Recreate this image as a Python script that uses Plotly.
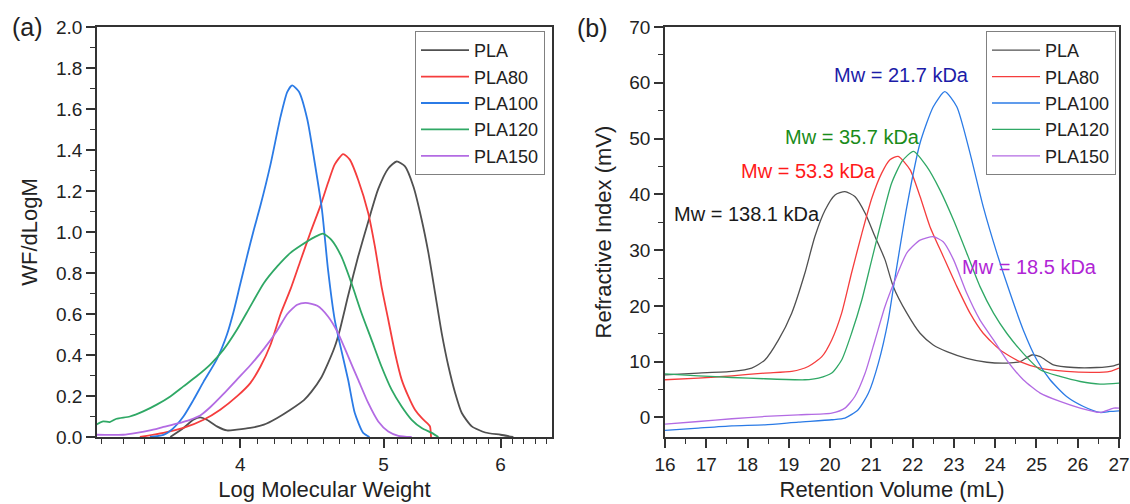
import math
import plotly.graph_objects as go

# ---------------- data: panel (a) GPC distributions ----------------
pla_x = [3.587, 3.661, 3.718, 3.758, 3.797, 3.857, 3.918, 3.979, 4.063, 4.150, 4.237, 4.325, 4.417,
         4.468, 4.538, 4.586, 4.634, 4.670, 4.732, 4.806, 4.882, 4.959, 5.037, 5.103, 5.170, 5.238,
         5.306, 5.362, 5.418, 5.474, 5.532, 5.590, 5.648, 5.737, 5.858, 6.00, 6.12]
pla_y = [0.0, 0.044, 0.084, 0.096, 0.084, 0.052, 0.032, 0.036, 0.044, 0.060, 0.093, 0.133, 0.180,
         0.22, 0.29, 0.36, 0.44, 0.52, 0.69, 0.88, 1.05, 1.21, 1.31, 1.344, 1.32, 1.222,
         1.06, 0.898, 0.702, 0.507, 0.344, 0.215, 0.117, 0.052, 0.022, 0.011, 0.0]

pla80_x = [3.421, 3.549, 3.661, 3.778, 3.877, 3.979, 4.063, 4.128, 4.193, 4.259, 4.325, 4.393, 4.463,
           4.533, 4.586, 4.634, 4.695, 4.744, 4.806, 4.882, 4.933, 4.984, 5.037, 5.090, 5.143, 5.197,
           5.251, 5.306, 5.356, 5.375, 5.384]
pla80_y = [0.0, 0.02, 0.044, 0.084, 0.133, 0.198, 0.263, 0.344, 0.45, 0.60, 0.72, 0.86, 1.0,
           1.13, 1.24, 1.33, 1.38, 1.353, 1.255, 1.093, 0.93, 0.735, 0.572, 0.41, 0.28, 0.198,
           0.133, 0.093, 0.065, 0.052, 0.0]

pla100_x = [3.475, 3.549, 3.60, 3.661, 3.718, 3.778, 3.857, 3.918, 3.958, 3.998, 4.042, 4.085, 4.128,
            4.193, 4.259, 4.304, 4.337, 4.383, 4.440, 4.489, 4.543, 4.586, 4.634, 4.670, 4.732,
            4.781, 4.844, 4.892]
pla100_y = [0.0, 0.01, 0.04, 0.10, 0.18, 0.27, 0.38, 0.50, 0.61, 0.74, 0.88, 1.01, 1.13,
            1.33, 1.563, 1.684, 1.715, 1.684, 1.55, 1.35, 1.107, 0.815, 0.571, 0.458, 0.278,
            0.117, 0.02, 0.0]

pla120_x = [3.196, 3.231, 3.264, 3.299, 3.368, 3.439, 3.512, 3.587, 3.661, 3.737, 3.817, 3.897, 3.979,
            4.063, 4.150, 4.237, 4.325, 4.398, 4.491, 4.550, 4.610, 4.682, 4.756, 4.831, 4.907,
            4.984, 5.063, 5.143, 5.224, 5.306, 5.390, 5.446]
pla120_y = [0.06, 0.076, 0.073, 0.089, 0.10, 0.125, 0.158, 0.198, 0.247, 0.296, 0.353, 0.426, 0.523,
            0.637, 0.751, 0.832, 0.898, 0.935, 0.975, 0.992, 0.962, 0.881, 0.751, 0.605, 0.475,
            0.344, 0.231, 0.149, 0.084, 0.044, 0.02, 0.0]

pla150_x = [3.196, 3.264, 3.333, 3.404, 3.475, 3.549, 3.623, 3.699, 3.758, 3.817, 3.897, 3.979, 4.063,
            4.150, 4.237, 4.304, 4.371, 4.429, 4.510, 4.586, 4.658, 4.732, 4.806, 4.882, 4.959,
            5.037, 5.117, 5.224]
pla150_y = [0.011, 0.01, 0.011, 0.02, 0.032, 0.049, 0.065, 0.084, 0.105, 0.145, 0.21, 0.28, 0.35,
            0.43, 0.52, 0.60, 0.645, 0.654, 0.64, 0.588, 0.507, 0.393, 0.28, 0.166, 0.076,
            0.027, 0.006, 0.0]

# ---------------- data: panel (b) refractive index traces ----------------
ri_pla_x = [16, 16.81, 17.62, 18.1, 18.42, 18.75, 19.07, 19.39, 19.63, 19.88, 20.12, 20.36, 20.60,
            20.85, 21.09, 21.33, 21.53, 21.86, 22.18, 22.50, 22.83, 23.31, 23.80, 24.28, 24.60,
            24.89, 25.09, 25.41, 25.90, 26.46, 26.87, 27.0]
ri_pla_y = [7.65, 7.96, 8.25, 8.85, 10.3, 13.9, 18.7, 25.9, 32.4, 37.2, 39.9, 40.5, 39.6,
            36.6, 32.4, 28.3, 23.5, 18.7, 15.1, 13.0, 11.8, 10.6, 9.9, 9.75, 10.0,
            11.2, 10.9, 9.44, 8.96, 8.96, 9.27, 9.57]

ri_pla80_x = [16, 16.81, 17.62, 18.42, 19.07, 19.47, 19.80, 20.04, 20.28, 20.52, 20.77, 21.01, 21.25,
              21.45, 21.65, 21.94, 22.18, 22.42, 22.74, 23.07, 23.39, 23.71, 24.12, 24.60, 25.09,
              25.73, 26.38, 26.78, 27.0]
ri_pla80_y = [6.76, 7.06, 7.47, 7.96, 8.25, 9.14, 10.9, 13.9, 18.7, 25.9, 33.0, 39.3, 43.8,
              46.2, 46.8, 44.4, 39.6, 34.2, 28.9, 23.5, 18.7, 15.1, 12.1, 10.0, 8.85,
              8.25, 8.07, 8.25, 8.85]

ri_pla100_x = [16, 16.81, 17.62, 18.42, 19.23, 20.04, 20.36, 20.68, 20.93, 21.17, 21.41, 21.55, 21.86,
               22.18, 22.50, 22.78, 23.07, 23.39, 23.71, 24.04, 24.36, 24.68, 25.01, 25.33, 25.73,
               26.14, 26.54, 26.78, 27.0]
ri_pla100_y = [-2.33, -1.9, -1.49, -1.31, -0.83, -0.41, -0.11, 1.38, 4.37, 9.75, 17.5, 24.0, 37.8,
               49.2, 55.7, 58.4, 55.7, 47.4, 37.8, 29.5, 22.3, 15.7, 10.3, 6.76, 3.76,
               1.97, 0.9, 1.08, 1.2]

ri_pla120_x = [16, 16.81, 17.62, 18.42, 19.39, 19.72, 20.04, 20.28, 20.52, 20.77, 21.01, 21.25, 21.49,
               21.75, 22.02, 22.34, 22.66, 22.99, 23.31, 23.63, 23.96, 24.28, 24.68, 25.09, 25.57,
               26.06, 26.54, 27.0]
ri_pla120_y = [7.83, 7.47, 7.17, 6.94, 6.76, 7.06, 7.96, 10.3, 15.1, 21.1, 28.3, 35.4, 42.0,
               46.0, 47.7, 45.0, 40.8, 35.4, 29.5, 23.5, 18.7, 15.1, 11.5, 8.55, 7.35,
               6.45, 5.99, 6.16]

ri_pla150_x = [16, 16.81, 17.62, 18.42, 19.23, 20.04, 20.36, 20.60, 20.85, 21.09, 21.33, 21.55, 21.86,
               22.18, 22.50, 22.74, 22.99, 23.31, 23.63, 23.96, 24.28, 24.68, 25.09, 25.57, 26.06,
               26.54, 26.87, 27.0]
ri_pla150_y = [-1.19, -0.72, -0.23, 0.18, 0.48, 0.79, 1.68, 3.76, 7.96, 13.9, 19.9, 24.2, 29.5,
               31.8, 32.4, 31.5, 28.3, 22.3, 17.5, 13.9, 10.3, 6.76, 4.37, 2.87, 1.68,
               0.9, 1.68, 1.68]

names = ["PLA", "PLA80", "PLA100", "PLA120", "PLA150"]
colors = ["#505050", "#f53d3d", "#2b7be6", "#2fa865", "#b36be3"]

mw_labels = ["Mw = 138.1 kDa", "Mw = 53.3 kDa", "Mw = 21.7 kDa", "Mw = 35.7 kDa", "Mw = 18.5 kDa"]
mw_label_x = [17.99, 19.48, 21.74, 20.54, 24.83]
mw_label_y = [36.5, 44.2, 61.4, 50.3, 27.0]
mw_colors = ["#1a1a1a", "#ff1a1a", "#1c1ca8", "#1a8c1a", "#b025d5"]

x_major_a = [4, 5, 6]
x_minor_a = [m + k / 9 for m in [3, 4, 5, 6] for k in range(1, 9)]

FONT = "Liberation Sans, Arial, sans-serif"

fig = go.Figure()

left_sets = [(pla_x, pla_y), (pla80_x, pla80_y), (pla100_x, pla100_y), (pla120_x, pla120_y), (pla150_x, pla150_y)]
right_sets = [(ri_pla_x, ri_pla_y), (ri_pla80_x, ri_pla80_y), (ri_pla100_x, ri_pla100_y),
              (ri_pla120_x, ri_pla120_y), (ri_pla150_x, ri_pla150_y)]

for (xs, ys), n, c in zip(left_sets, names, colors):
    fig.add_trace(go.Scatter(x=xs, y=ys, name=n, mode="lines",
                             line=dict(color=c, width=1.8, shape="spline", smoothing=0.6),
                             xaxis="x", yaxis="y", legend="legend"))
for (xs, ys), n, c in zip(right_sets, names, colors):
    fig.add_trace(go.Scatter(x=xs, y=ys, name=n, mode="lines",
                             line=dict(color=c, width=1.3, shape="spline", smoothing=0.6),
                             xaxis="x2", yaxis="y2", legend="legend2"))

axis_common = dict(showline=True, linecolor="#333333", linewidth=1.5, mirror=True,
                   ticks="outside", ticklen=9, tickwidth=1.5, tickcolor="#333333",
                   showgrid=False, zeroline=False, automargin=False,
                   tickfont=dict(family=FONT, size=19, color="#222222"),
                   title_font=dict(family=FONT, size=22, color="#222222"))
minor_common = dict(ticks="outside", ticklen=5, tickwidth=1.2, tickcolor="#333333", showgrid=False)

legend_common = dict(xanchor="right", yanchor="top", bgcolor="white", bordercolor="#808080",
                     borderwidth=1, itemwidth=48, tracegroupgap=0,
                     font=dict(family=FONT, size=18, color="#222222"))

fig.update_layout(
    width=1130, height=504,
    margin=dict(l=0, r=0, t=0, b=0, autoexpand=False),
    paper_bgcolor="white", plot_bgcolor="white",
    font=dict(family=FONT, size=18, color="#222222"),
    xaxis=dict(axis_common, domain=[97 / 1130, 552 / 1130], type="log",
               range=[math.log10(3.2), math.log10(6.5)],
               tickmode="array", tickvals=x_major_a, ticktext=[str(v) for v in x_major_a],
               minor=dict(minor_common, tickmode="array", tickvals=x_minor_a),
               title=dict(text="Log Molecular Weight", standoff=8), anchor="y"),
    yaxis=dict(axis_common, domain=[1 - 437 / 504, 1 - 27 / 504], range=[0, 2.0],
               tick0=0, dtick=0.2, tickformat=".1f",
               minor=dict(minor_common, tick0=0, dtick=0.1),
               title=dict(text="WF/dLogM", standoff=12), anchor="x"),
    xaxis2=dict(axis_common, domain=[665 / 1130, 1119 / 1130], range=[16, 27],
                tick0=16, dtick=1, minor=dict(minor_common, tick0=16, dtick=0.5),
                title=dict(text="Retention Volume (mL)", standoff=8), anchor="y2"),
    yaxis2=dict(axis_common, domain=[1 - 437 / 504, 1 - 27 / 504], range=[-3.5, 70],
                tick0=0, dtick=10, minor=dict(minor_common, tick0=0, dtick=5),
                title=dict(text="Refractive Index (mV)", standoff=12), anchor="x2"),
    legend=dict(legend_common, x=545 / 1130, y=1 - 31 / 504),
    legend2=dict(legend_common, x=1116 / 1130, y=1 - 31 / 504),
    showlegend=True,
)

for t, x, y, c in zip(mw_labels, mw_label_x, mw_label_y, mw_colors):
    fig.add_annotation(text=t, x=x, y=y, xref="x2", yref="y2", showarrow=False,
                       font=dict(family=FONT, size=20, color=c), xanchor="center", yanchor="middle")

fig.add_annotation(text="(a)", x=27.5 / 1130, y=1 - 26.5 / 504, xref="paper", yref="paper",
                   showarrow=False, font=dict(family=FONT, size=25, color="#222222"),
                   xanchor="center", yanchor="middle")
fig.add_annotation(text="(b)", x=592.5 / 1130, y=1 - 28 / 504, xref="paper", yref="paper",
                   showarrow=False, font=dict(family=FONT, size=25, color="#222222"),
                   xanchor="center", yanchor="middle")

fig.write_html("out.html", config={"displayModeBar": False},
               post_script="document.body.style.margin='0px';document.body.style.overflow='hidden';")
